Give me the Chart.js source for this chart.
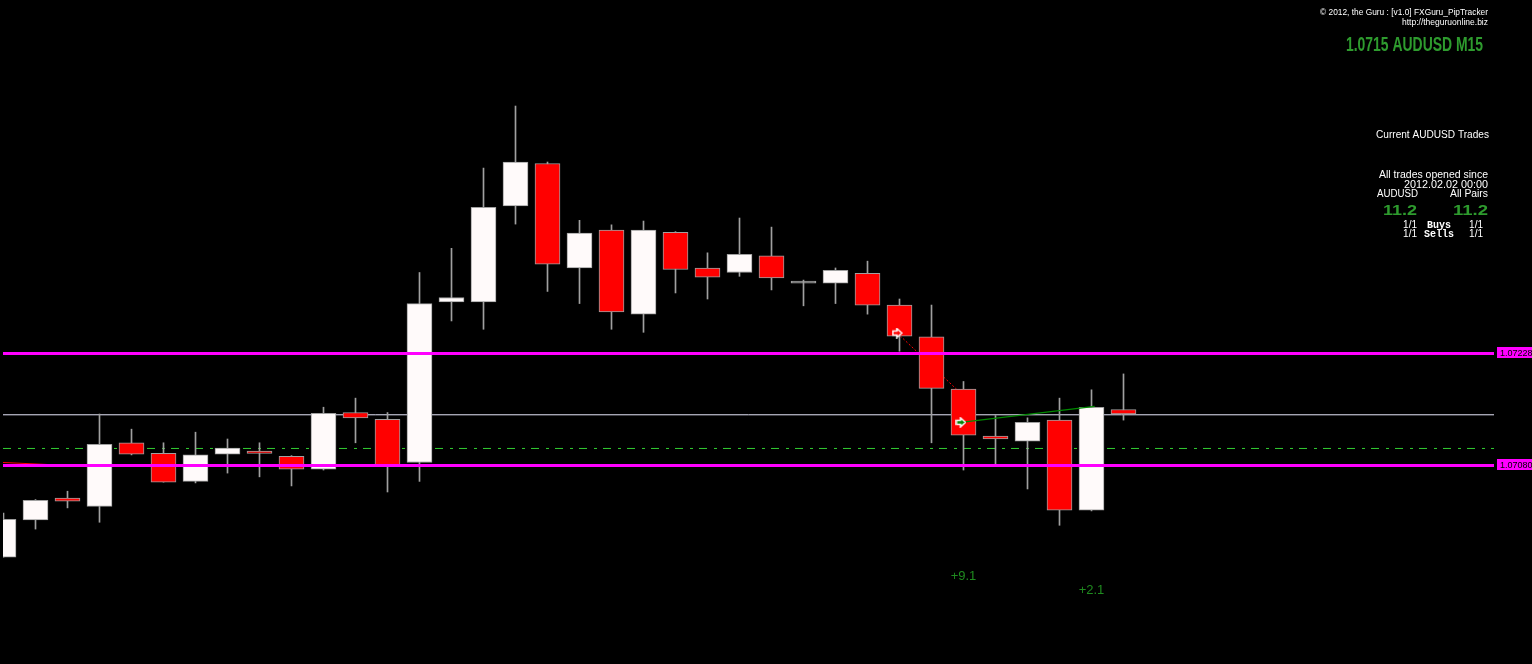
<!DOCTYPE html>
<html>
<head>
<meta charset="utf-8">
<title>AUDUSD M15</title>
<script src="https://cdn.jsdelivr.net/npm/chart.js@4.4.1/dist/chart.umd.min.js"></script>
<style>
  html, body { margin: 0; padding: 0; background: #000; overflow: hidden; }
  canvas { display: block; }
</style>
</head>
<body>
<canvas id="chart" width="1532" height="664"></canvas>
<script>
// AUDUSD M15 candles + PipTracker overlay
(function () {
  "use strict";

  // ---- data (prices) ----
  const opens = [
    1.06959, 1.07008, 1.07037, 1.07026, 1.0711, 1.07096, 1.07059, 1.07095, 1.07099,
    1.07092, 1.07075, 1.0715, 1.07141, 1.07084, 1.07296, 1.07296, 1.07423, 1.07479,
    1.07341, 1.07391, 1.0728, 1.07388, 1.07341, 1.07335, 1.07357, 1.07321, 1.07321,
    1.07334, 1.07292, 1.0725, 1.07181, 1.07119, 1.07112, 1.0714, 1.07021, 1.07154,
  ];
  const highs = [
    1.07017, 1.07035, 1.07046, 1.07148, 1.07128, 1.0711, 1.07124, 1.07115, 1.0711,
    1.07093, 1.07157, 1.07169, 1.0715, 1.07335, 1.07367, 1.07473, 1.07555, 1.07481,
    1.07404, 1.07398, 1.07403, 1.07389, 1.07361, 1.07407, 1.07395, 1.07325, 1.07341,
    1.0735, 1.073, 1.07292, 1.07191, 1.07146, 1.07143, 1.07169, 1.0718, 1.07201,
  ];
  const lows = [
    1.06959, 1.06996, 1.07024, 1.07005, 1.07094, 1.07058, 1.07057, 1.0707, 1.07065,
    1.07053, 1.07074, 1.0711, 1.07045, 1.07059, 1.07271, 1.0726, 1.07399, 1.0731,
    1.07294, 1.0726, 1.07256, 1.07308, 1.073, 1.0733, 1.07312, 1.07291, 1.07294,
    1.0728, 1.07231, 1.0711, 1.07074, 1.07082, 1.07049, 1.07001, 1.0702, 1.0714,
  ];
  const closes = [
    1.07009, 1.07034, 1.07033, 1.07108, 1.07095, 1.07058, 1.07094, 1.07103, 1.07096,
    1.07075, 1.07149, 1.07143, 1.0708, 1.07294, 1.07302, 1.07421, 1.07481, 1.07346,
    1.07387, 1.07283, 1.07391, 1.07339, 1.07329, 1.07359, 1.07328, 1.07321, 1.07338,
    1.07292, 1.07251, 1.07182, 1.0712, 1.07115, 1.07137, 1.07021, 1.07157, 1.07148,
  ];

  // horizontal levels
  const levelPrices = [1.07228, 1.0708];
  const levelLabels = ["1.07228", "1.07080"];
  const bidPrice = 1.07147;
  const avgPrice = 1.071025;

  // trades: [bar index, price]
  const sellTrade = [[27.93, 1.07255], [30.2, 1.07164]];
  const buyTrade = [[29.92, 1.07137], [34.1, 1.07158]];
  const oldTradeLine = [[-0.02, 1.07084], [3.1, 1.07078]];
  const pnlTexts = ["+9.1", "+2.1"];
  const pnlBars = [30, 34];
  const pnlPrices = [1.06935, 1.06917];

  // view window
  const X_MIN = -0.015625;
  const X_MAX = 46.578125;
  const Y_MIN = 1.068177;
  const Y_MAX = 1.076951;

  const BULL = "#FFFAFA";
  const BEAR = "#FF0000";
  const EDGE = "#A0A0A0";
  const GREEN = "#2E9B2E";

  const idx = opens.map((_, i) => i);
  const toPts = (arr) => arr.map((p) => ({ x: p[0], y: p[1] }));
  const span = (price) => [{ x: X_MIN, y: price }, { x: X_MAX, y: price }];
  const bodyColor = (i) =>
    closes[i] > opens[i] ? BULL : closes[i] < opens[i] ? BEAR : EDGE;

  // trade arrow marker (points right)
  function makeArrow(fill) {
    const c = document.createElement("canvas");
    c.width = 11;
    c.height = 11;
    const g = c.getContext("2d");
    g.beginPath();
    g.moveTo(1, 3.5);
    g.lineTo(5, 3.5);
    g.lineTo(5, 1);
    g.lineTo(10, 5.5);
    g.lineTo(5, 10);
    g.lineTo(5, 7.5);
    g.lineTo(1, 7.5);
    g.closePath();
    g.fillStyle = fill;
    g.fill();
    g.strokeStyle = "#FFFFFF";
    g.lineWidth = 1.5;
    g.stroke();
    return c;
  }

  const bgPlugin = {
    id: "bg",
    beforeDraw(chart) {
      const c = chart.ctx;
      c.save();
      c.fillStyle = "#000";
      c.fillRect(0, 0, chart.width, chart.height);
      c.restore();
    },
  };

  function txt(c, s, x, y, font, color, align) {
    c.font = font;
    c.fillStyle = color;
    c.textAlign = align || "left";
    c.fillText(s, x, y);
  }

  // squeeze text horizontally into a given width (right aligned)
  function txtFit(c, s, xRight, y, width, font, color) {
    c.save();
    c.font = font;
    const w = c.measureText(s).width;
    c.translate(xRight, y);
    c.scale(width / w, 1);
    txt(c, s, 0, 0, font, color, "right");
    c.restore();
  }

  const textPlugin = {
    id: "texts",
    afterDraw(chart) {
      const c = chart.ctx;
      const xs = chart.scales.x;
      const ys = chart.scales.y;
      c.save();
      c.textBaseline = "alphabetic";

      // price labels on the right edge
      levelPrices.forEach((p, i) => {
        const y = Math.round(ys.getPixelForValue(p));
        c.fillStyle = "#FF00FF";
        c.fillRect(1497, y - 6, 40, 11);
        txt(c, levelLabels[i], 1500, y + 3, "9px 'Liberation Sans'", "#000");
      });

      // profit labels
      pnlTexts.forEach((s, i) => {
        txt(c, s, xs.getPixelForValue(pnlBars[i]), ys.getPixelForValue(pnlPrices[i]) + 5,
          "13px 'Liberation Sans'", "#1F8A1F", "center");
      });

      // header
      const W = "#FFFFFF";
      txtFit(c, "\u00A9 2012, the Guru : [v1.0] FXGuru_PipTracker", 1488, 15, 168, "8.5px 'Liberation Sans'", W);
      txtFit(c, "http://theguruonline.biz", 1488, 25, 86, "8.5px 'Liberation Sans'", W);
      txtFit(c, "1.0715 AUDUSD M15", 1483, 51, 137, "bold 21px 'Liberation Sans'", GREEN);

      // trades panel
      const f = "10px 'Liberation Sans'";
      txtFit(c, "Current AUDUSD Trades", 1489, 138, 113, f, W);
      txtFit(c, "All trades opened since", 1488, 178, 109, f, W);
      txtFit(c, "2012.02.02 00:00", 1488, 188, 84, f, W);
      txtFit(c, "AUDUSD", 1418, 197, 41, f, W);
      txtFit(c, "All Pairs", 1488, 197, 38, f, W);
      txtFit(c, "11.2", 1417, 215, 34, "bold 15px 'Liberation Sans'", GREEN);
      txtFit(c, "11.2", 1488, 215, 35, "bold 15px 'Liberation Sans'", GREEN);
      txt(c, "1/1", 1417, 228, f, W, "right");
      txt(c, "Buys", 1439, 228, "bold 10px 'Liberation Mono'", W, "center");
      txt(c, "1/1", 1483, 228, f, W, "right");
      txt(c, "1/1", 1417, 237, f, W, "right");
      txt(c, "Sells", 1439, 237, "bold 10px 'Liberation Mono'", W, "center");
      txt(c, "1/1", 1483, 237, f, W, "right");
      c.restore();
    },
  };

  const ctx = document.getElementById("chart");
  new Chart(ctx, {
    type: "bar",
    data: {
      datasets: [
        {
          type: "line",
          data: span(bidPrice),
          borderColor: "#E6E6FA",
          borderWidth: 1,
          pointRadius: 0,
          order: 10,
        },
        {
          type: "line",
          data: span(avgPrice),
          borderColor: "#32CD32",
          borderWidth: 1,
          borderDash: [8, 7, 3, 6],
          pointRadius: 0,
          order: 10,
        },
        {
          type: "line",
          data: toPts(oldTradeLine),
          borderColor: "#FF0000",
          borderWidth: 1,
          pointRadius: 0,
          order: 10,
        },
        {
          type: "line",
          data: toPts(sellTrade),
          borderColor: "#FF0000",
          borderWidth: 1,
          borderDash: [2, 2],
          pointRadius: 0,
          order: 10,
        },
        {
          // wicks
          data: idx.map((i) => ({ x: i, y: [lows[i], highs[i]] })),
          backgroundColor: EDGE,
          borderWidth: 0,
          barThickness: 1,
          grouped: false,
          order: 8,
        },
        {
          // bodies
          data: idx.map((i) => ({ x: i, y: [opens[i], closes[i]] })),
          backgroundColor: idx.map(bodyColor),
          borderColor: EDGE,
          borderWidth: 1,
          borderSkipped: false,
          barThickness: 25,
          minBarLength: 2,
          grouped: false,
          order: 7,
        },
        ...levelPrices.map((p) => ({
          type: "line",
          data: span(p),
          borderColor: "#FF00FF",
          borderWidth: 3,
          pointRadius: 0,
          order: 5,
        })),
        {
          type: "line",
          data: toPts(buyTrade),
          borderColor: "#008A00",
          borderWidth: 1.2,
          pointRadius: 0,
          order: 4,
        },
        {
          type: "scatter",
          data: [toPts(sellTrade)[0]],
          pointStyle: makeArrow("#FF0000"),
          order: 1,
        },
        {
          type: "scatter",
          data: [toPts(buyTrade)[0]],
          pointStyle: makeArrow("#008000"),
          order: 1,
        },
      ],
    },
    options: {
      responsive: false,
      animation: false,
      devicePixelRatio: 1,
      layout: {
        autoPadding: false,
        padding: { left: 3, right: 38, top: 0, bottom: 0 },
      },
      plugins: {
        legend: { display: false },
        tooltip: { enabled: false },
      },
      scales: {
        x: { type: "linear", min: X_MIN, max: X_MAX, display: false, offset: false },
        y: { type: "linear", min: Y_MIN, max: Y_MAX, display: false },
      },
    },
    plugins: [bgPlugin, textPlugin],
  });
})();
</script>
</body>
</html>
